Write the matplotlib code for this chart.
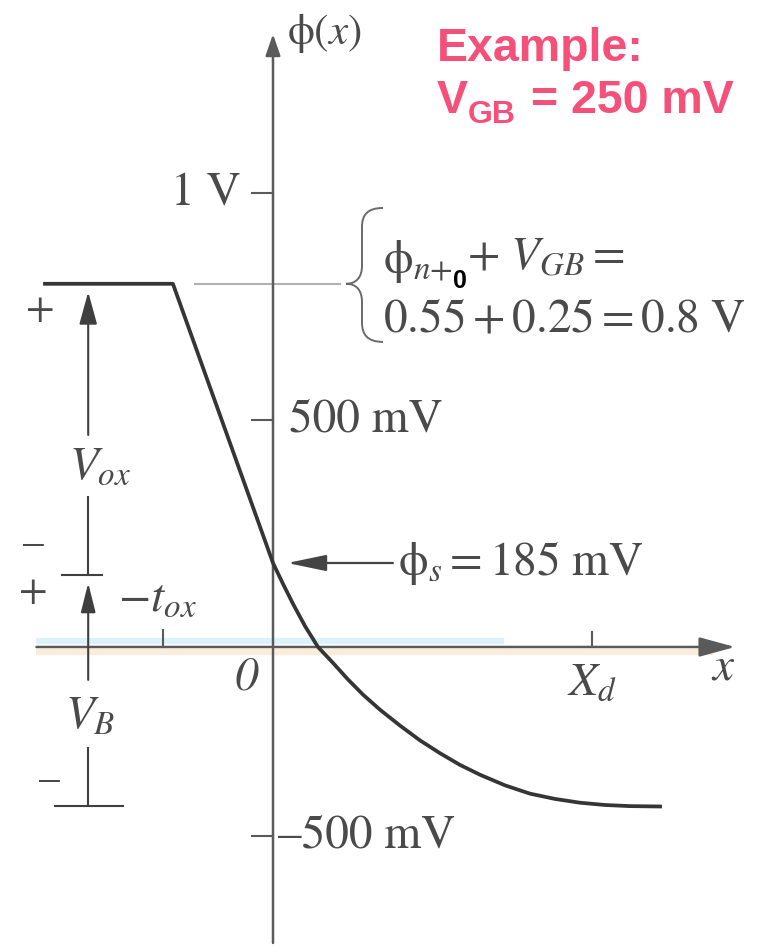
import numpy as np
import matplotlib
matplotlib.use("Agg")
import matplotlib.pyplot as plt
from matplotlib.path import Path
from matplotlib.patches import PathPatch

plt.rcParams["mathtext.fontset"] = "stix"
plt.rcParams["font.family"] = ["STIXGeneral", "DejaVu Serif"]

# Potential profile phi(x) through gate oxide and silicon (x in nm, phi in V)
x_ox = [-20.9, -9.1, 0.0]
phi_ox = [0.80, 0.80, 0.185]

x_si = [0.0, 0.91, 1.82, 2.91, 4.09, 5.45, 6.82, 8.18, 9.73, 11.55, 13.36, 15.18,
        17.0, 18.82, 21.09, 23.36, 25.64, 27.91, 30.18, 32.45, 35.36]
phi_si = [0.185, 0.139, 0.095, 0.046, 0.0, -0.042, -0.086, -0.126, -0.166, -0.208,
          -0.247, -0.281, -0.312, -0.338, -0.366, -0.388, -0.402, -0.412, -0.418,
          -0.421, -0.422]

phi_gate = 0.80      # phi_n+ + V_GB
phi_s = 0.185        # surface potential
phi_bulk = -0.422    # bulk potential
phi_mid = 0.159      # split between V_ox and V_B brackets
t_ox = 10.0
x_d = 29.0

ytick_vals = [1.0, 0.5, -0.5]
ytick_labels = ["1 V", "500 mV", "\u2013500 mV"]

INK = "#4a4a4a"
CURVE = "#353535"
AXIS = "#5a5a5a"
PINK = "#f4507a"
FS = 34

# drawing is compressed below zero
k_neg = 378.0 / 454.0


def fwd(y):
    y = np.asarray(y, dtype=float)
    return np.where(y >= 0, y, y * k_neg)


def inv(y):
    y = np.asarray(y, dtype=float)
    return np.where(y >= 0, y, y / k_neg)


fig = plt.figure(figsize=(7.84, 9.47), dpi=100)
ax = fig.add_axes([0, 0, 1, 1])
ax.set_yscale("function", functions=(fwd, inv))
ax.set_xlim(-24.818, 46.455)
ax.set_ylim(-0.7937, 1.4251)
ax.axis("off")

# faint colour fringes along the x axis
ax.plot([-21.5, 21.0], [0.013, 0.013], color="#dcf2fb", lw=4.5, solid_capstyle="butt", zorder=1)
ax.plot([-21.5, 40.0], [-0.014, -0.014], color="#fcedda", lw=4.5, solid_capstyle="butt", zorder=1)

# axes with arrows
ax.annotate("", xy=(0, 1.350), xytext=(0, -0.783),
            arrowprops=dict(arrowstyle="-|>,head_length=1.3,head_width=0.45", lw=1.8,
                            color=AXIS, mutation_scale=10, shrinkA=0, shrinkB=0), zorder=2)
ax.annotate("", xy=(42.0, 0), xytext=(-21.5, 0),
            arrowprops=dict(arrowstyle="-|>,head_length=2.2,head_width=0.6", lw=1.8,
                            color=AXIS, mutation_scale=10, shrinkA=0, shrinkB=0), zorder=2)

# y ticks
for v in ytick_vals:
    ax.plot([-1.9, 0], [v, v], color=AXIS, lw=1.5, zorder=2)
ax.text(-2.9, ytick_vals[0], ytick_labels[0], ha="right", va="center", fontsize=FS, color=INK)
ax.text(1.5, ytick_vals[1], ytick_labels[1], ha="left", va="center", fontsize=FS, color=INK)
ax.text(0.5, ytick_vals[2], ytick_labels[2], ha="left", va="center", fontsize=FS, color=INK)

# x ticks
ax.plot([-t_ox, -t_ox], [0, 0.037], color=AXIS, lw=1.5, zorder=2)
ax.plot([x_d, x_d], [0, 0.033], color=AXIS, lw=1.5, zorder=2)

# potential curve
ax.plot(x_ox + x_si[1:], phi_ox + phi_si[1:], color=CURVE, lw=2.7,
        solid_joinstyle="round", solid_capstyle="butt", zorder=3)

# reference level of the gate
ax.plot([-7.1, 6.1], [phi_gate, phi_gate], color="#b0b0b0", lw=1.5, zorder=1)

# brace
verts = [(10.0, 0.967),
         (8.6, 0.967), (8.09, 0.952), (8.09, 0.925),
         (8.09, 0.840),
         (8.09, 0.815), (7.6, 0.800), (6.64, 0.800),
         (7.6, 0.800), (8.09, 0.785), (8.09, 0.760),
         (8.09, 0.715),
         (8.09, 0.688), (8.6, 0.672), (10.0, 0.672)]
codes = [Path.MOVETO,
         Path.CURVE4, Path.CURVE4, Path.CURVE4,
         Path.LINETO,
         Path.CURVE4, Path.CURVE4, Path.CURVE4,
         Path.CURVE4, Path.CURVE4, Path.CURVE4,
         Path.LINETO,
         Path.CURVE4, Path.CURVE4, Path.CURVE4]
ax.add_patch(PathPatch(Path(verts, codes), fill=False, edgecolor="#6a6a6a", lw=1.4,
                       transform=ax.transData))

ax.text(10.0, 0.848, r"$\mathrm{\phi}_{n{+}}$", ha="left", va="center", fontsize=FS, color=INK)
ax.text(16.35, 0.806, "0", ha="left", va="center", fontsize=18, color="black",
        family="Liberation Sans", weight="bold")
ax.text(17.6, 0.858, r"$+\ V_{GB} =$", ha="left", va="center", fontsize=FS, color=INK)
ax.text(10.0, 0.720, r"$0.55 + 0.25 = 0.8\ \mathrm{V}$", ha="left", va="center",
        fontsize=FS, color=INK)

# V_ox / V_B brackets on the left
xb = -16.8
ax.annotate("", xy=(xb, 0.782), xytext=(xb, 0.467),
            arrowprops=dict(arrowstyle="-|>,head_length=2.0,head_width=0.55", lw=1.5,
                            color="#3f3f3f", mutation_scale=10, shrinkA=0, shrinkB=0))
ax.plot([xb, xb], [0.330, phi_mid], color="#3f3f3f", lw=1.5)
ax.plot([-19.2, -15.5], [phi_mid, phi_mid], color="#3f3f3f", lw=1.5)
ax.annotate("", xy=(xb, 0.141), xytext=(xb, -0.087),
            arrowprops=dict(arrowstyle="-|>,head_length=1.8,head_width=0.45", lw=1.5,
                            color="#3f3f3f", mutation_scale=10, shrinkA=0, shrinkB=0))
ax.plot([xb, xb], [-0.267, phi_bulk], color="#3f3f3f", lw=1.5)
ax.plot([-19.8, -13.6], [phi_bulk, phi_bulk], color="#3f3f3f", lw=1.5)

ax.text(-21.2, 0.742, "+", ha="center", va="center", fontsize=30, color=INK)
ax.text(-21.8, 0.227, "\u2013", ha="center", va="center", fontsize=30, color=INK)
ax.text(-21.8, 0.121, "+", ha="center", va="center", fontsize=30, color=INK)
ax.text(-20.3, -0.352, "\u2013", ha="center", va="center", fontsize=30, color=INK)

ax.text(-15.7, 0.395, r"$V_{ox}$", ha="center", va="center", fontsize=FS, color=INK)
ax.text(-16.6, -0.185, r"$V_B$", ha="center", va="center", fontsize=FS, color=INK)
ax.text(-10.5, 0.105, r"$-t_{ox}$", ha="center", va="center", fontsize=FS, color=INK)

# axis labels
ax.text(1.3, 1.352, r"$\mathrm{\phi}(x)$", ha="left", va="center", fontsize=31, color=INK)
ax.text(40.9, -0.055, r"$x$", ha="center", va="center", fontsize=FS, color=INK)
ax.text(-2.4, -0.082, "0", ha="center", va="center", fontsize=FS, color=INK, style="italic")
ax.text(29.0, -0.095, r"$X_d$", ha="center", va="center", fontsize=FS, color=INK)

# surface potential marker
ax.annotate("", xy=(1.3, phi_s), xytext=(10.9, phi_s),
            arrowprops=dict(arrowstyle="-|>,head_length=2.4,head_width=0.5", lw=1.6,
                            color="#444444", mutation_scale=10, shrinkA=0, shrinkB=0))
ax.text(11.4, phi_s, r"$\mathrm{\phi}_s = 185\ \mathrm{mV}$", ha="left", va="center",
        fontsize=FS, color=INK)

# example values
ax.text(14.9, 1.291, "Example:", ha="left", va="baseline", fontsize=33.5,
        color=PINK, family="Liberation Sans", weight="bold")
ax.text(14.9, 1.176, "V", ha="left", va="baseline", fontsize=33.5,
        color=PINK, family="Liberation Sans", weight="bold")
ax.text(17.7, 1.154, "GB", ha="left", va="baseline", fontsize=23,
        color=PINK, family="Liberation Sans", weight="bold")
ax.text(23.5, 1.176, "= 250 mV", ha="left", va="baseline", fontsize=33.5,
        color=PINK, family="Liberation Sans", weight="bold")

fig.savefig("out.png", dpi=100)
